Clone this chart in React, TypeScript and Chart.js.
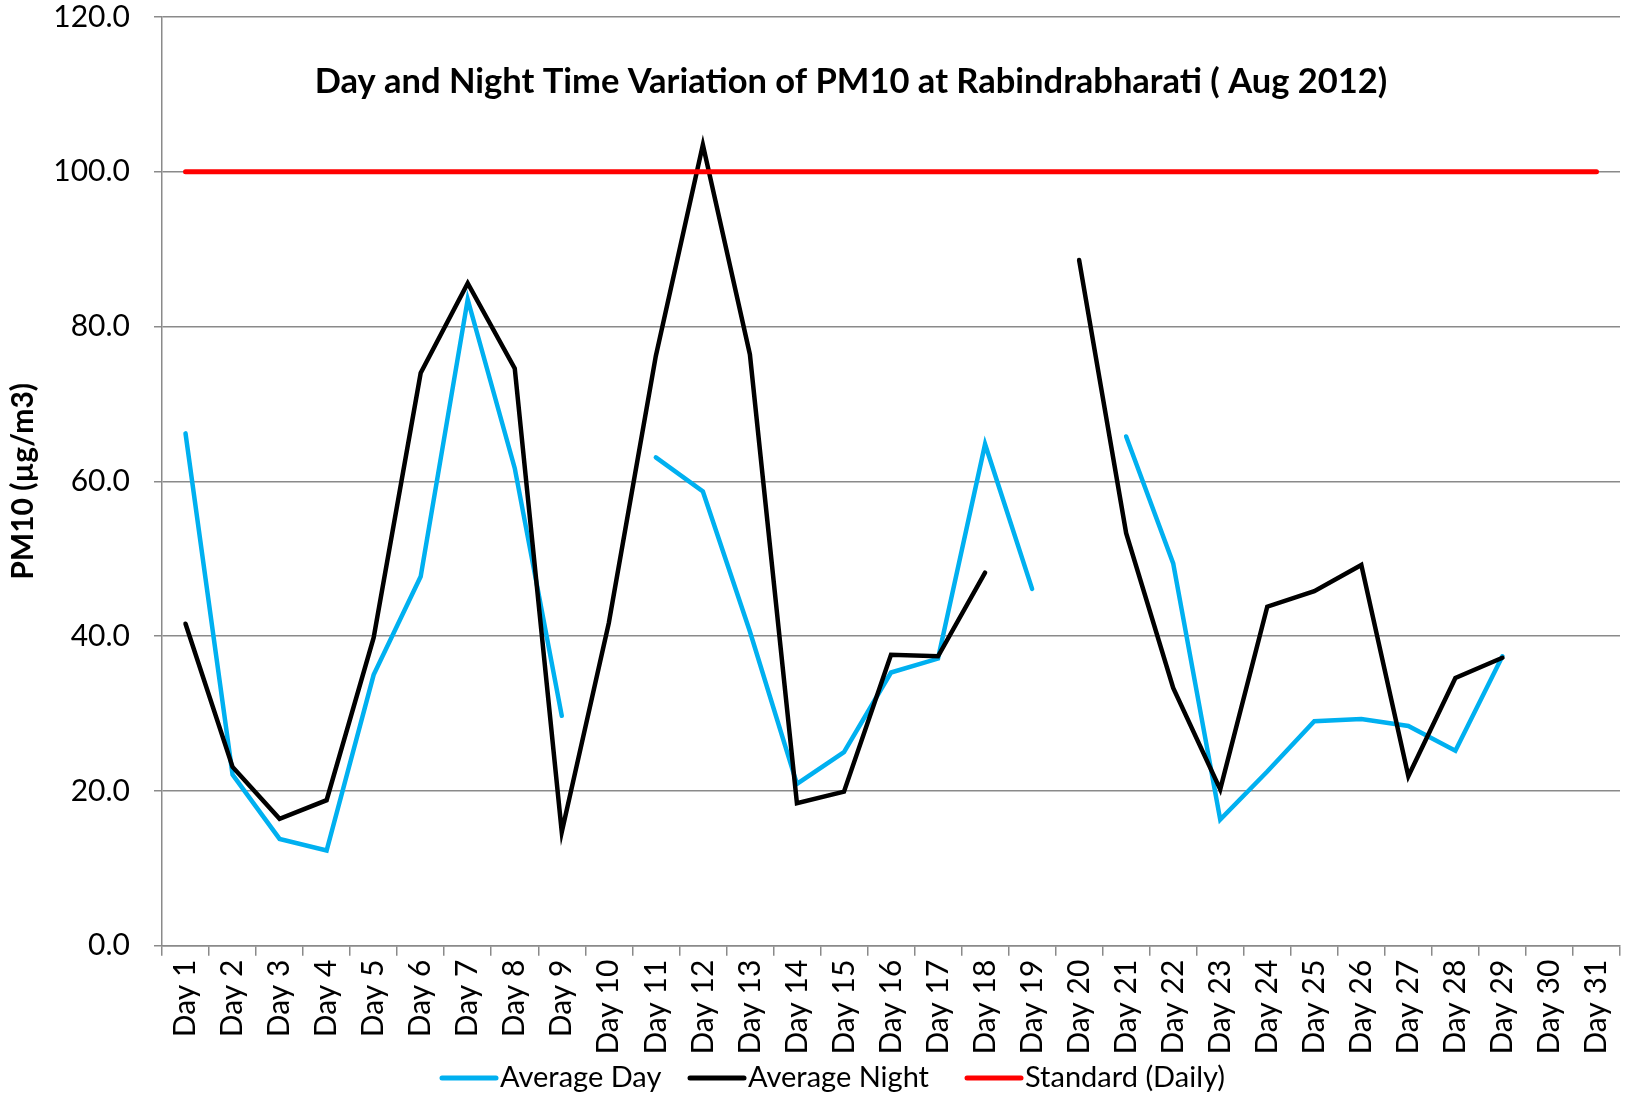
import React, { useEffect, useRef } from "react";
import { Chart, registerables } from "chart.js";

Chart.register(...registerables);

const categories = [
  "Day 1", "Day 2", "Day 3", "Day 4", "Day 5", "Day 6", "Day 7", "Day 8", "Day 9", "Day 10",
  "Day 11", "Day 12", "Day 13", "Day 14", "Day 15", "Day 16", "Day 17", "Day 18", "Day 19", "Day 20",
  "Day 21", "Day 22", "Day 23", "Day 24", "Day 25", "Day 26", "Day 27", "Day 28", "Day 29", "Day 30", "Day 31",
];

const averageDay = [
  66.2, 22.1, 13.8, 12.3, 35.0, 47.7, 83.5, 61.7, 29.7, null,
  63.1, 58.7, 40.6, 20.9, 25.0, 35.3, 37.1, 64.8, 46.1, null,
  65.8, 49.4, 16.3, 22.5, 29.0, 29.3, 28.4, 25.2, 37.4, null, null,
];

const averageNight = [
  41.6, 23.1, 16.4, 18.8, 39.8, 74.0, 85.6, 74.6, 14.7, 41.7,
  76.2, 103.5, 76.4, 18.4, 19.9, 37.6, 37.4, 48.2, null, 88.6,
  53.3, 33.3, 20.2, 43.8, 45.8, 49.2, 21.9, 34.6, 37.2, null, null,
];

const standardDaily = [
  100, 100, 100, 100, 100, 100, 100, 100, 100, 100,
  100, 100, 100, 100, 100, 100, 100, 100, 100, 100,
  100, 100, 100, 100, 100, 100, 100, 100, 100, 100, 100,
];

const seriesNames = ["Average Day", "Average Night", "Standard (Daily)"];
const seriesColors = ["#00B0F0", "#000000", "#FF0000"];

const yMin = 0;
const yMax = 120;
const yStep = 20;

const chartTitle = "Day and Night Time Variation of PM10 at Rabindrabharati ( Aug 2012)";
const yAxisTitle = "PM10 (µg/m3)";

const GRID = "#8a8a8a";
const FONT = "Lato";

export default function App() {
  const ref = useRef<HTMLCanvasElement>(null);

  useEffect(() => {
    document.body.style.margin = "0";
    const canvas = ref.current;
    if (!canvas) return;
    const ctx = canvas.getContext("2d");
    if (!ctx) return;

    const titlePlugin = {
      id: "customTitle",
      afterDraw(chart: any) {
        const c = chart.ctx;
        c.save();
        c.font = `bold 34.5px ${FONT}`;
        c.fillStyle = "#000";
        c.textAlign = "center";
        c.textBaseline = "middle";
        c.fillText(chartTitle, 851, 82);
        c.restore();
      },
    };

    const legendPlugin = {
      id: "customLegend",
      afterDraw(chart: any) {
        const c = chart.ctx;
        const starts = [442, 690, 967];
        const y = 1078;
        c.save();
        c.font = `29px ${FONT}`;
        c.textBaseline = "middle";
        c.textAlign = "left";
        seriesNames.forEach((name, i) => {
          c.strokeStyle = seriesColors[i];
          c.lineWidth = 5;
          c.lineCap = "round";
          c.beginPath();
          c.moveTo(starts[i], y);
          c.lineTo(starts[i] + 54, y);
          c.stroke();
          c.fillStyle = "#000";
          c.fillText(name, starts[i] + 58, y);
        });
        c.restore();
      },
    };

    const chart = new Chart(ctx, {
      type: "line",
      data: {
        labels: categories,
        datasets: [
          {
            label: seriesNames[0],
            data: averageDay,
            borderColor: seriesColors[0],
            backgroundColor: seriesColors[0],
            borderWidth: 4.5,
            pointRadius: 0,
            spanGaps: false,
            borderCapStyle: "round",
            order: 2,
          },
          {
            label: seriesNames[1],
            data: averageNight,
            borderColor: seriesColors[1],
            backgroundColor: seriesColors[1],
            borderWidth: 4.5,
            pointRadius: 0,
            spanGaps: false,
            borderCapStyle: "round",
            order: 1,
          },
          {
            label: seriesNames[2],
            data: standardDaily,
            borderColor: seriesColors[2],
            backgroundColor: seriesColors[2],
            borderWidth: 5,
            pointRadius: 0,
            borderCapStyle: "round",
            order: 0,
          },
        ],
      },
      options: {
        animation: false,
        responsive: false,
        layout: { padding: { top: 17, right: 13, left: 0, bottom: 0 } },
        elements: { line: { tension: 0 }, point: { radius: 0 } },
        plugins: {
          legend: { display: false },
          title: { display: false },
          tooltip: { enabled: false },
        },
        scales: {
          x: {
            type: "category",
            offset: true,
            grid: {
              offset: true,
              drawOnChartArea: false,
              drawTicks: true,
              tickLength: 10,
              color: GRID,
              lineWidth: 1.5,
            },
            border: { color: GRID, width: 1.5 },
            ticks: {
              autoSkip: false,
              minRotation: 90,
              maxRotation: 90,
              color: "#000",
              padding: 4,
              font: { family: FONT, size: 30 },
            },
            afterFit(scale: any) {
              scale.height = 155.3;
              scale.paddingLeft = 0;
              scale.paddingRight = 0;
            },
          },
          y: {
            min: yMin,
            max: yMax,
            ticks: {
              stepSize: yStep,
              color: "#000",
              padding: 24,
              font: { family: FONT, size: 30 },
              callback: (v: any) => Number(v).toFixed(1),
            },
            grid: { color: GRID, lineWidth: 1.5, tickLength: 8 },
            border: { color: GRID, width: 1.5 },
            title: {
              display: true,
              text: yAxisTitle,
              color: "#000",
              font: { family: FONT, size: 30, weight: "bold" },
              padding: { top: 5, bottom: 0 },
            },
            afterFit(scale: any) {
              scale.width = 162;
              scale.paddingTop = 0;
              scale.paddingBottom = 0;
            },
          },
        },
      },
      plugins: [titlePlugin, legendPlugin],
    });

    return () => chart.destroy();
  }, []);

  return (
    <div style={{ width: 1633, height: 1101 }}>
      <canvas ref={ref} width={1633} height={1101} style={{ display: "block" }} />
    </div>
  );
}
